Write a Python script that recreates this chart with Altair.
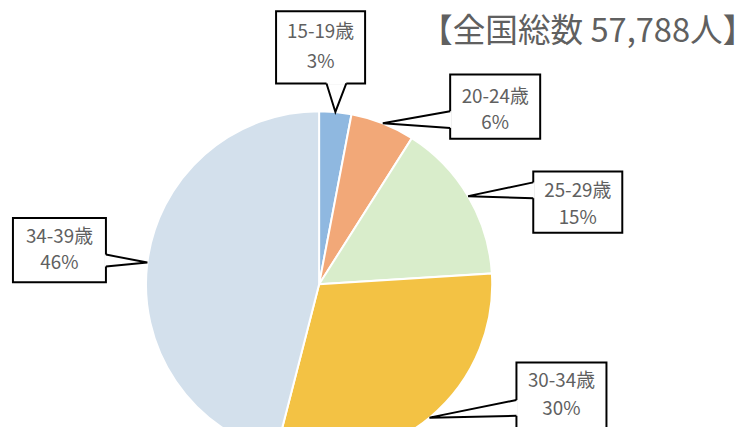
import math
import altair as alt
import pandas as pd

# ---------------- data ----------------
categories = ["15-19歳", "20-24歳", "25-29歳", "30-34歳", "34-39歳"]
shares = [3, 6, 15, 30, 46]
pct_labels = ["3%", "6%", "15%", "30%", "46%"]
colors = ["#8FB8E0", "#F2A878", "#D9EDCB", "#F3C244", "#D3E0EC"]
total_label = "【全国総数 57,788人】"

# ---------------- layout ----------------
W, H = 740, 419
CX, CY, R = 314.5, 277, 175
TEXT_GRAY = "#606060"
FONT = "Noto Sans CJK JP"

# callout boxes: (x0, x1, y0, y1, side, base_a, base_b, text_y1, text_y2)
boxes = [
    (271, 361, 1, 74, "bottom", 322, 342, 22, 52),
    (447, 538, 65, 130, "left", 102, 119, 88, 114),
    (531, 621, 163, 225, "left", 174, 190, 183, 210),
    (514, 605, 356, 440, "left", 394, 410, 375, 403),
    (5, 99, 210, 275, "right", 247, 259, 229, 256),
]

total = sum(shares)
pie = pd.DataFrame({"cat": categories, "v": shares, "i": list(range(len(shares)))})

rect_rows, erase_rows, ptr_rows, text_rows = [], [], [], []
cum = 0
for k, (cat, v, pl, b) in enumerate(zip(categories, shares, pct_labels, boxes)):
    mid = (cum + v / 2) / total * 2 * math.pi
    cum += v
    tx, ty = CX + R * math.sin(mid), CY - R * math.cos(mid)
    x0, x1, y0, y1, side, ba, bb, t1, t2 = b
    rect_rows.append({"x": x0, "x2": x1, "y": y0, "y2": y1})
    if side == "bottom":
        p1, p2 = (ba, y1), (bb, y1)
    elif side == "left":
        p1, p2 = (x0, ba), (x0, bb)
    else:
        p1, p2 = (x1, ba), (x1, bb)
    erase_rows.append({"x": p1[0], "y": p1[1], "x2": p2[0], "y2": p2[1]})
    for o, (px, py) in enumerate([p1, (tx, ty), p2]):
        ptr_rows.append({"c": k, "o": o, "x": px, "y": py})
    cxm = (x0 + x1) / 2
    text_rows.append({"x": cxm, "y": t1, "t": cat})
    text_rows.append({"x": cxm, "y": t2, "t": pl})

xs = alt.Scale(domain=[0, W], range=[0, W], nice=False, zero=False)
ys = alt.Scale(domain=[0, H], range=[0, H], nice=False, zero=False)

arcs = alt.Chart(pie).mark_arc(outerRadius=R, stroke="white", strokeWidth=2).encode(
    theta=alt.Theta("v:Q", stack=True),
    order=alt.Order("i:Q"),
    color=alt.Color("cat:N", scale=alt.Scale(domain=categories, range=colors), legend=None),
    x=alt.value(CX),
    y=alt.value(CY),
)

rects = alt.Chart(pd.DataFrame(rect_rows)).mark_rect(
    fill="white", stroke="black", strokeWidth=2
).encode(
    x=alt.X("x:Q", scale=xs, axis=None),
    x2="x2:Q",
    y=alt.Y("y:Q", scale=ys, axis=None),
    y2="y2:Q",
)

erase = alt.Chart(pd.DataFrame(erase_rows)).mark_rule(color="white", strokeWidth=3).encode(
    x=alt.X("x:Q", scale=xs, axis=None),
    x2="x2:Q",
    y=alt.Y("y:Q", scale=ys, axis=None),
    y2="y2:Q",
)

ptrs = alt.Chart(pd.DataFrame(ptr_rows)).mark_line(color="black", strokeWidth=2).encode(
    x=alt.X("x:Q", scale=xs, axis=None),
    y=alt.Y("y:Q", scale=ys, axis=None),
    detail="c:N",
    order="o:Q",
)

texts = alt.Chart(pd.DataFrame(text_rows)).mark_text(
    font=FONT, fontSize=19, color=TEXT_GRAY, align="center", baseline="middle"
).encode(
    x=alt.X("x:Q", scale=xs, axis=None),
    y=alt.Y("y:Q", scale=ys, axis=None),
    text="t:N",
)

title = alt.Chart(pd.DataFrame({"t": [total_label]})).mark_text(
    font=FONT, fontSize=33, color=TEXT_GRAY, align="center", baseline="middle"
).encode(
    x=alt.value(586),
    y=alt.value(22),
    text="t:N",
)

chart = alt.layer(arcs, rects, erase, ptrs, texts, title).properties(
    width=W, height=H, padding=0, autosize=alt.AutoSizeParams(type="none")
).configure_view(stroke=None)

chart.save("out.html", embed_options={"renderer": "svg", "actions": False})
